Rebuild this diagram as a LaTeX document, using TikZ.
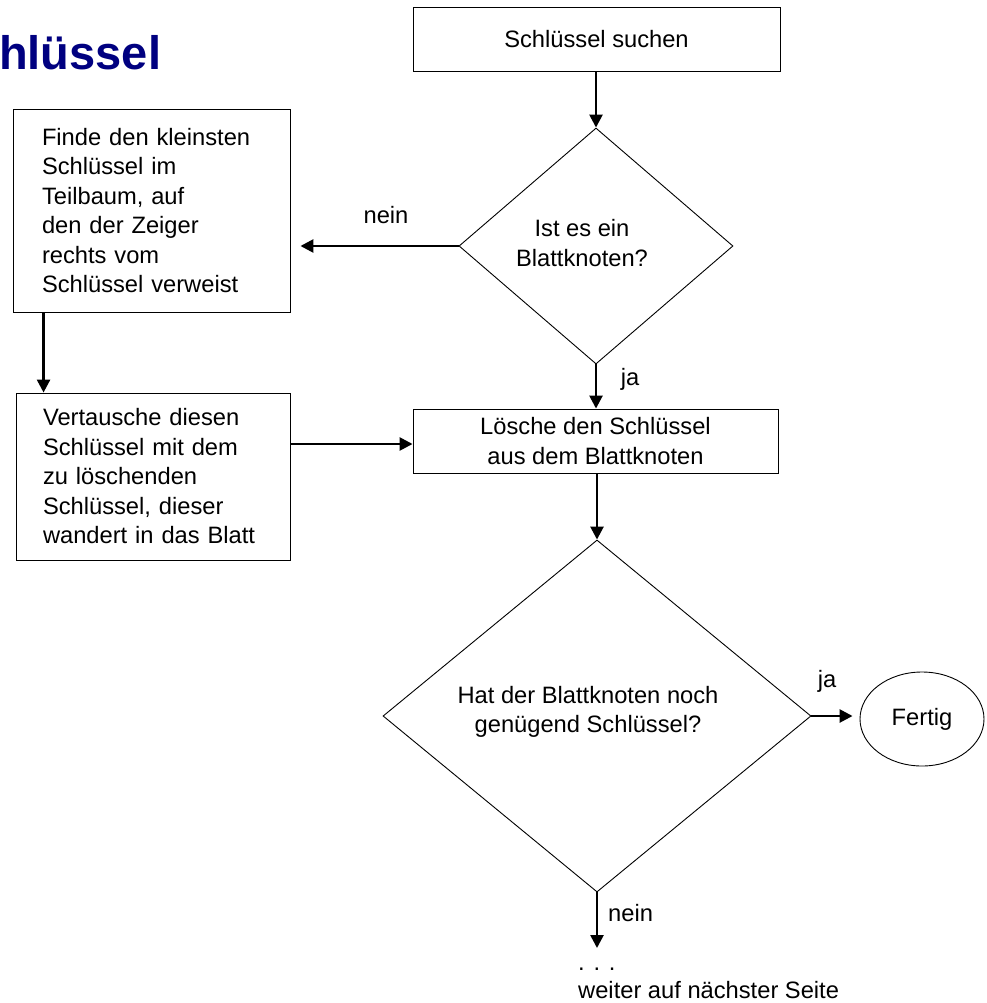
\documentclass[tikz,border=0pt]{standalone}
\usepackage{fontspec}
\setmainfont{Liberation Sans}
\usetikzlibrary{shapes.geometric,arrows.meta}
\definecolor{titleblue}{RGB}{0,0,128}
\newcommand\diagfont{\fontsize{23.7}{29.5}\selectfont}
\begin{document}
\begin{tikzpicture}[x=1pt,y=-1pt,
  box/.style={draw=black, line width=0.9pt, rectangle, inner sep=0pt, font=\diagfont},
  dia/.style={draw=black, line width=0.9pt, diamond, inner sep=0pt},
  lbl/.style={inner sep=0pt, font=\diagfont},
  arr/.style={line width=2.6pt, -{Triangle[length=13pt,width=13pt]}},
  titletext/.style={inner sep=0pt, font=\fontsize{47}{56}\selectfont\bfseries, text=titleblue}]
\path[use as bounding box] (0,0) rectangle (986,1003);
\clip (0,0) rectangle (986,1003);

\node[titletext, anchor=base west] (title) at (-1,70) {hlüssel};

\node[box, minimum width=367, minimum height=64] (start) at (596.5,39) {Schlüssel suchen};
\node[dia, minimum width=274, minimum height=236] (d1) at (596,246) {};
\node[lbl, align=center] (d1t) at (582,243) {Ist es ein\\Blattknoten?};

\node[box, minimum width=277, minimum height=203, text width=219, align=left] (finde) at (151.5,210.5)
  {Finde den kleinsten\\Schlüssel im\\Teilbaum, auf\\den der Zeiger\\rechts vom\\Schlüssel verweist};
\node[box, minimum width=274, minimum height=167, text width=220, align=left] (vert) at (153,476.5)
  {Vertausche diesen\\Schlüssel mit dem\\zu löschenden\\Schlüssel, dieser\\wandert in das Blatt};
\node[box, minimum width=365, minimum height=64, align=center] (loesche) at (595.5,441)
  {Lösche den Schlüssel\\aus dem Blattknoten};

\node[dia, minimum width=428, minimum height=352] (d2) at (597,716) {};
\node[lbl, align=center] (d2t) at (588,712) {Hat der Blattknoten noch\\ genügend Schlüssel?};
\node[ellipse, draw=black, line width=0.9pt, inner sep=0pt, minimum width=124, minimum height=94, font=\diagfont] (fertig) at (922,719) {Fertig};

\coordinate (nextpage) at (597,948);
\node[lbl, anchor=base west] (dots) at (578,970) {. . .};
\node[lbl, anchor=base west] (weiter) at (578,998) {weiter auf nächster Seite};

% connectors
\draw[arr] (start.south -| d1.north) -- (d1.north);
\draw[arr, shorten >=10pt] (d1.west) -- (d1.west -| finde.east);
\node[lbl, anchor=base] (nein1) at (386,223) {nein};
\coordinate (fd) at ([xshift=31pt]finde.south west);
\draw[arr] (fd) -- (fd |- vert.north);
\coordinate (lw) at ([yshift=-3pt]loesche.west);
\draw[arr] (lw -| vert.east) -- (lw);
\draw[arr] (d1.south) -- (d1.south |- loesche.north);
\node[lbl, anchor=base] (ja1) at (630,385) {ja};
\draw[arr] (loesche.south -| d2.north) -- (d2.north);
\draw[arr, shorten >=7pt] (d2.east) -- (d2.east -| fertig.west);
\node[lbl, anchor=base] (ja2) at (827,687) {ja};
\draw[arr] (d2.south) -- (nextpage);
\node[lbl, anchor=base west] (nein2) at (608,921) {nein};
\end{tikzpicture}
\end{document}
